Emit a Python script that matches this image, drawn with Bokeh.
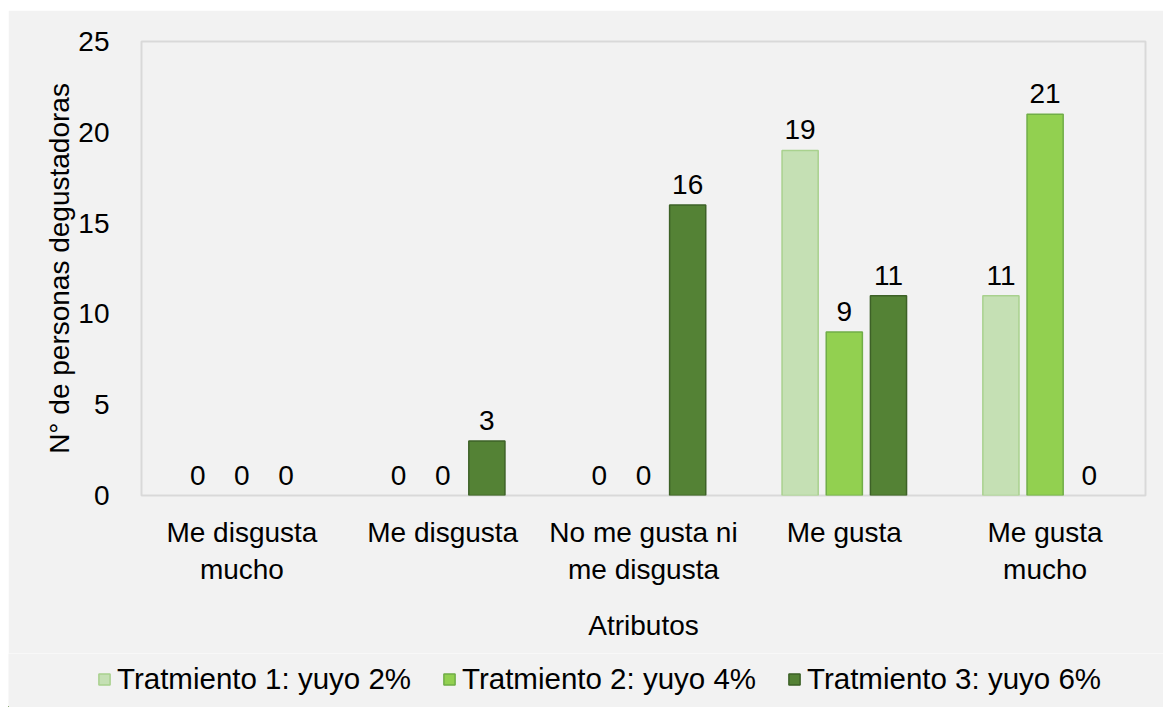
from bokeh.plotting import figure
from bokeh.layouts import column
from bokeh.models import ColumnDataSource, LabelSet, Legend, LegendItem, FixedTicker, Range1d
from bokeh.core.properties import value
from bokeh.embed import file_html
from bokeh.resources import INLINE

categories = ["Me disgusta\nmucho", "Me disgusta", "No me gusta ni\nme disgusta", "Me gusta", "Me gusta\nmucho"]
series_names = ["Tratmiento 1: yuyo 2%", "Tratmiento 2: yuyo 4%", "Tratmiento 3: yuyo 6%"]
t1 = [0, 0, 0, 19, 11]
t2 = [0, 0, 0, 9, 21]
t3 = [0, 3, 16, 11, 0]
yticks = [0, 5, 10, 15, 20, 25]

fills = ["#c5e0b4", "#92d050", "#548235"]
lines = ["#a9d18e", "#70ad47", "#3d6127"]
offsets = [-0.22, 0.0, 0.22]
FONT = "Liberation Sans"
FS = "28px"
BG = "#f2f2f2"

p = figure(width=1155, height=643, x_range=Range1d(0, 5), y_range=Range1d(0, 25),
           output_backend="svg", toolbar_location=None, frame_align=False,
           min_border_left=133, min_border_right=18, min_border_top=31, min_border_bottom=158)
p.background_fill_color = BG
p.border_fill_color = BG
p.outline_line_color = "#d9d9d9"
p.outline_line_width = 2
p.grid.visible = False

centers = [i + 0.5 for i in range(len(categories))]
sources = []
for k, vals in enumerate([t1, t2, t3]):
    src = ColumnDataSource(dict(x=[c + offsets[k] for c in centers], top=vals,
                                lab=[str(v) for v in vals],
                                la=[1.0 if v > 0 else 0.0 for v in vals]))
    sources.append(src)
    p.vbar(x="x", top="top", bottom=0, width=0.18, source=src,
           fill_color=fills[k], line_color=lines[k], line_width=1.5, line_alpha="la")
    p.add_layout(LabelSet(x="x", y="top", text="lab", source=src, y_offset=11,
                          text_align="center", text_baseline="bottom",
                          text_font=value(FONT), text_font_size=FS, text_color="#000000"))

p.xaxis.ticker = FixedTicker(ticks=centers)
p.xaxis.major_label_overrides = {c: lab for c, lab in zip(centers, categories)}
p.yaxis.ticker = FixedTicker(ticks=yticks)
for ax in [p.xaxis, p.yaxis]:
    ax.axis_line_color = None
    ax.major_tick_line_color = None
    ax.minor_tick_line_color = None
    ax.major_label_text_font = FONT
    ax.major_label_text_font_size = FS
    ax.major_label_text_color = "#000000"
    ax.axis_label_text_font = FONT
    ax.axis_label_text_font_size = FS
    ax.axis_label_text_font_style = "normal"
    ax.axis_label_text_color = "#000000"
p.xaxis.axis_label = "Atributos"
p.yaxis.axis_label = "N° de personas degustadoras"
p.xaxis.major_label_standoff = 15
p.xaxis.axis_label_standoff = 22
p.yaxis.major_label_standoff = 26
p.yaxis.axis_label_standoff = 0

# legend strip below the chart (legend renderers reuse the series sources, outside its view)
pl = figure(width=1155, height=54, x_range=Range1d(100, 101), y_range=Range1d(100, 101),
            x_axis_type=None, y_axis_type=None, output_backend="svg", toolbar_location=None,
            frame_align=False, min_border_left=0, min_border_right=0,
            min_border_top=0, min_border_bottom=0)
pl.background_fill_color = BG
pl.border_fill_color = BG
pl.outline_line_color = None
pl.grid.visible = False
items = []
for k in range(3):
    r = pl.vbar(x="x", top="top", bottom=0, width=0.18, source=sources[k],
                fill_color=fills[k], line_color=lines[k], line_width=1.5)
    items.append(LegendItem(label=series_names[k], renderers=[r]))
legend = Legend(items=items, orientation="horizontal", location=(89, 11),
                background_fill_alpha=0, border_line_color=None,
                label_text_font=FONT, label_text_font_size="29.5px", label_text_color="#000000",
                glyph_width=14, glyph_height=14, spacing=0, label_standoff=6,
                label_width=325, padding=0, margin=0)
pl.add_layout(legend)

layout = column(p, pl, spacing=0, margin=(10, 0, 0, 8))
open("out.html", "w").write(file_html(layout, INLINE))
